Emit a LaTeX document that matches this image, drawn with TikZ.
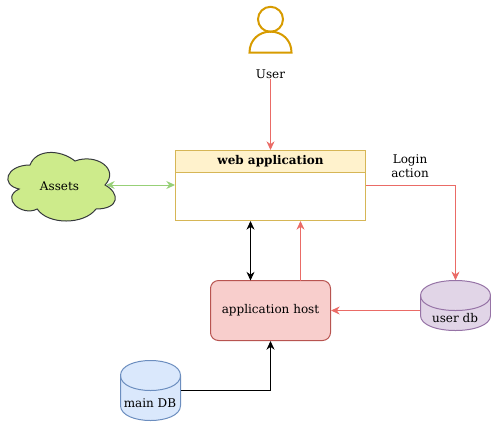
\documentclass[tikz,border=0pt]{standalone}
\usepackage{fontspec}
\setmainfont{DejaVu Serif}
\usetikzlibrary{arrows.meta, positioning, calc}

\definecolor{linered}{HTML}{EA6B66}
\definecolor{linegreen}{HTML}{97D077}
\definecolor{useredge}{HTML}{D79B00}
\definecolor{webfill}{HTML}{FFF2CC}
\definecolor{webedge}{HTML}{D6B656}
\definecolor{hostfill}{HTML}{F8CECC}
\definecolor{hostedge}{HTML}{B85450}
\definecolor{udbfill}{HTML}{E1D5E7}
\definecolor{udbedge}{HTML}{9673A6}
\definecolor{mdbfill}{HTML}{DAE8FC}
\definecolor{mdbedge}{HTML}{6C8EBF}
\definecolor{cloudfill}{HTML}{CDEB8B}
\definecolor{cloudedge}{HTML}{36393D}

\tikzset{
	label text/.style={font=\fontsize{9}{10.5}\selectfont, inner sep=0pt, align=center},
	link/.style={line width=0.75pt, -{Stealth[length=6.5pt,width=6pt]}},
	twolink/.style={line width=0.75pt, {Stealth[length=6.5pt,width=6pt]}-{Stealth[length=6.5pt,width=6pt]}},
}

% drum: centre x, top y, half width, height, fill, edge
\newcommand{\drum}[6]{
	\draw[#6, fill=#5, line width=0.75pt] (#1-#3,#2+15) .. controls (#1-#3,#2-5) and (#1+#3,#2-5) .. (#1+#3,#2+15)
		-- (#1+#3,#2+#4-15) .. controls (#1+#3,#2+#4+5) and (#1-#3,#2+#4+5) .. (#1-#3,#2+#4-15) -- cycle;
	\draw[#6, line width=0.75pt] (#1-#3,#2+15) .. controls (#1-#3,#2+35) and (#1+#3,#2+35) .. (#1+#3,#2+15);
}

\begin{document}
\begin{tikzpicture}[x=0.75pt, y=-0.75pt]
			\useasboundingbox (0,0) rectangle (491,422);
			
			% ----- User -----
			\draw[useredge, line width=1.5pt] (270.5,19.3) circle (12.5);
			\draw[useredge, line width=1.5pt] (249.5,52.5) .. controls (249.5,40) and (259,31.6) .. (270.5,31.6)
				.. controls (282,31.6) and (291.5,40) .. (291.5,52.5) -- cycle;
			\node[label text] (user) at (270.5,74) {User};
			
			% ----- Web application -----
			\node[label text, draw=webedge, fill=white, line width=0.75pt, minimum width=142.5pt, minimum height=52.5pt] (webapp) at (270.5,185.5) {};
			\node[label text, draw=webedge, fill=webfill, line width=0.75pt, minimum width=142.5pt, minimum height=16.5pt, font=\fontsize{9}{10.5}\selectfont\bfseries] (webhead) at (270.5,161.5) {web application};
			
			% ----- Assets cloud -----
			\draw[cloudedge, fill=cloudfill, line width=0.75pt] (30,165) .. controls (6,165) and (0,185) .. (19.2,189)
				.. controls (0,197.8) and (21.6,217) .. (37.2,209)
				.. controls (48,225) and (84,225) .. (96,209)
				.. controls (120,209) and (120,193) .. (105,185)
				.. controls (120,169) and (96,153) .. (75,161)
				.. controls (60,149) and (36,149) .. (30,165) -- cycle;
			\node[label text] (assets) at (59.5,186) {Assets};
			\coordinate (assetsport) at (106,185);
			
			% ----- Application host -----
			\node[label text, draw=hostedge, fill=hostfill, line width=0.75pt, rounded corners=6pt, minimum width=90pt, minimum height=45pt] (host) at (270.5,310.5) {application host};
			\coordinate (hostleft) at (250.5,280.5);
			\coordinate (hostright) at (300.5,280.5);
			
			% ----- Databases -----
			\drum{455.5}{280.5}{35}{50}{udbfill}{udbedge}
			\node[minimum width=52.5pt, minimum height=37.5pt, inner sep=0pt] (userdb) at (455.5,305.5) {};
			\node[label text] (userdbname) at (455,318.5) {user db};
			\drum{150.5}{360.5}{30}{60}{mdbfill}{mdbedge}
			\node[minimum width=45pt, minimum height=45pt, inner sep=0pt] (maindb) at (150.5,390.5) {};
			\node[label text] (maindbname) at (150,403.5) {main DB};
			
			% ----- Links -----
			\draw[link, linered] (user) -- (webhead);
			\draw[twolink, linegreen] (assetsport) -- (assetsport -| webapp.west);
			\draw[link, linered] (assetsport -| webapp.east) -| (userdb.north);
			\draw[link, linered] (userdb.west |- host.east) -- (host.east);
			\draw[link, linered] (hostright) -- (hostright |- webapp.south);
			\draw[twolink, black] (hostleft) -- (hostleft |- webapp.south);
			\draw[link, black] (maindb.east) -| (host.south);
			
			% Label of the login link
			\node[label text] (login) at (410,166) {Login\\action};
			
		\end{tikzpicture}
\end{document}
